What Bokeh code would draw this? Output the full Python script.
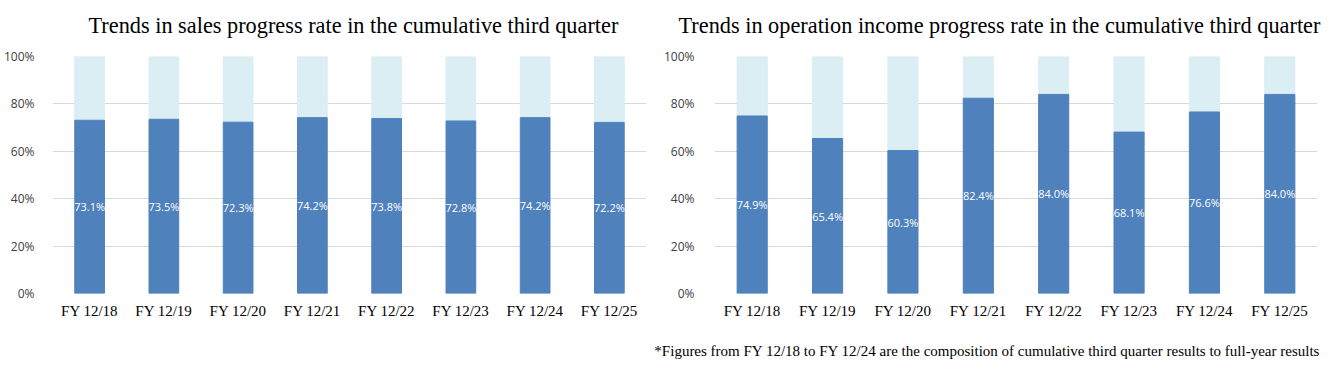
from bokeh.plotting import figure
from bokeh.layouts import row, column
from bokeh.models import FactorRange, Range1d, NumeralTickFormatter, ColumnDataSource
from bokeh.core.properties import value
from bokeh.embed import file_html
from bokeh.resources import INLINE

categories = ["FY 12/18", "FY 12/19", "FY 12/20", "FY 12/21", "FY 12/22", "FY 12/23", "FY 12/24", "FY 12/25"]
sales_rate = [73.1, 73.5, 72.3, 74.2, 73.8, 72.8, 74.2, 72.2]
income_rate = [74.9, 65.4, 60.3, 82.4, 84.0, 68.1, 76.6, 84.0]
title_left = "Trends in sales progress rate in the cumulative third quarter"
title_right = "Trends in operation income progress rate in the cumulative third quarter"
footnote = "*Figures from FY 12/18 to FY 12/24 are the composition of cumulative third quarter results to full-year results"

DARK = "#4F81BD"
LIGHT = "#DBEEF4"
GRID = "#D9D9D9"
SERIF = "Liberation Serif"
SANS = "Open Sans"
TOTAL_W = 1325


def text_strip(height):
    # a bare figure whose data units are pixels (y measured from the top)
    s = figure(width=TOTAL_W, height=height, x_range=Range1d(0, TOTAL_W), y_range=Range1d(height, 0),
               output_backend="svg", toolbar_location=None, x_axis_location=None, y_axis_location=None,
               min_border=0)
    s.outline_line_color = None
    s.grid.grid_line_color = None
    return s


def make_chart(vals, width, bl, br, ystand):
    p = figure(x_range=FactorRange(*categories, range_padding=0), y_range=Range1d(0, 1),
               width=width, height=277, output_backend="svg", toolbar_location=None,
               min_border_left=bl, min_border_right=br, min_border_top=10, min_border_bottom=30)
    frac = [v / 100 for v in vals]
    src = ColumnDataSource(dict(x=categories, v=frac, mid=[f / 2 for f in frac],
                                lab=["%.1f%%" % v for v in vals], top=[1.0] * len(vals)))
    p.vbar(x="x", bottom="v", top="top", width=0.4, color=LIGHT, source=src)
    p.vbar(x="x", bottom=0, top="v", width=0.4, color=DARK, source=src)
    p.text(x="x", y="mid", text="lab", source=src, text_color="white",
           text_font=value(SANS), text_font_size="11px", text_align="center", text_baseline="middle")
    p.outline_line_color = None
    p.xgrid.grid_line_color = None
    p.ygrid.grid_line_color = GRID
    p.ygrid.grid_line_width = 1
    p.yaxis.ticker = [0, 0.2, 0.4, 0.6, 0.8, 1.0]
    p.yaxis.formatter = NumeralTickFormatter(format="0%")
    for ax in (p.xaxis, p.yaxis):
        ax.axis_line_color = None
        ax.major_tick_line_color = None
        ax.minor_tick_line_color = None
    p.yaxis.major_label_text_font = SANS
    p.yaxis.major_label_text_font_size = "12px"
    p.yaxis.major_label_text_color = "#404040"
    p.yaxis.major_label_standoff = ystand
    p.xaxis.major_label_text_font = SERIF
    p.xaxis.major_label_text_font_size = "15px"
    p.xaxis.major_label_text_color = "#000000"
    p.xaxis.major_label_standoff = 3
    return p


left = make_chart(sales_rate, 660, 44, 14, 12)
right = make_chart(income_rate, 665, 49, 8, 14)

header = text_strip(46)
header.text(x=[88, 678], y=[25, 25], text=[title_left, title_right], text_font=value(SERIF),
            text_font_size="22.3px", text_color="#000000", text_align="left", text_baseline="alphabetic")

footer = text_strip(46)
footer.text(x=[1320], y=[27], text=[footnote], text_font=value(SERIF),
            text_font_size="15px", text_color="#000000", text_align="right", text_baseline="alphabetic")

layout = column(header, row(left, right, spacing=0), footer, spacing=0)
open("out.html", "w").write(file_html(layout, INLINE))
